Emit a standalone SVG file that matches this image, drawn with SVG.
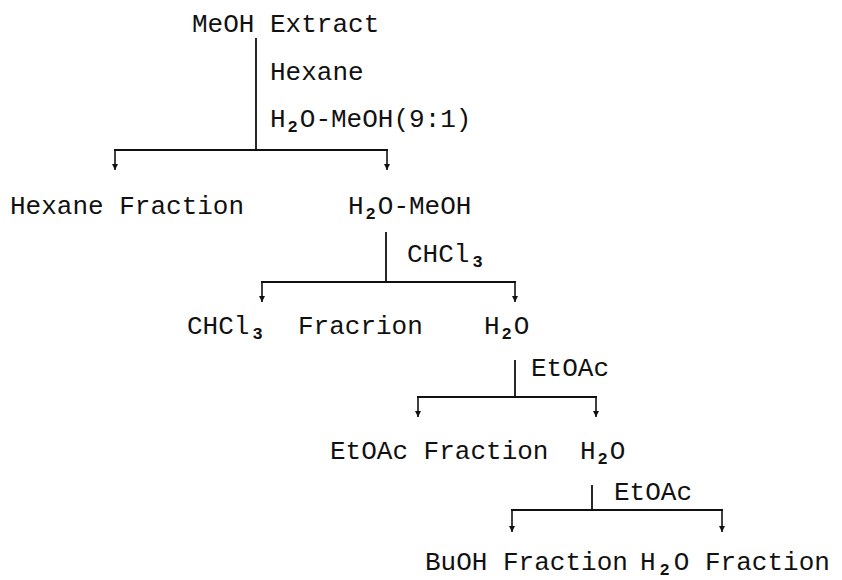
<svg xmlns="http://www.w3.org/2000/svg" width="842" height="580" viewBox="0 0 842 580">
<defs>
<marker id="ah" markerWidth="8" markerHeight="8" refX="6" refY="3.5" orient="auto" markerUnits="userSpaceOnUse">
<path d="M0,0.5 L6,3.5 L0,6.5 Z" fill="#111"/>
</marker>
</defs>
<style>
text{font-family:"Liberation Mono","DejaVu Sans Mono",monospace;font-size:26px;fill:#111}
.sub{font-size:17px;font-weight:bold}
.ln{stroke:#111;stroke-width:1.8;fill:none}
.ar{stroke:#111;stroke-width:1.6;fill:none;marker-end:url(#ah)}
</style>
<rect width="842" height="580" fill="#fff"/>
<g id="connectors">
<path class="ln" d="M256,38 V150 M114,150 H388"/>
<path class="ar" d="M115,150 V170"/>
<path class="ar" d="M387,150 V170"/>
<path class="ln" d="M386,232 V282 M261,282 H516"/>
<path class="ar" d="M262,282 V302"/>
<path class="ar" d="M515,282 V302"/>
<path class="ln" d="M515,360 V397 M417,397 H597"/>
<path class="ar" d="M418,397 V417"/>
<path class="ar" d="M596,397 V417"/>
<path class="ln" d="M592,485 V510 M511,510 H723"/>
<path class="ar" d="M512,510 V532"/>
<path class="ar" d="M722,510 V532"/>
</g>
<g id="meoh-extract"><text x="192" y="32">MeOH Extract</text></g>
<g id="solvent1">
<text x="270" y="80">Hexane</text>
<text x="270" y="127">H<tspan class="sub" dx="2" dy="5">2</tspan><tspan dx="2" dy="-5">O-MeOH(9:1)</tspan></text>
</g>
<g id="hexane-fraction"><text x="10" y="214">Hexane Fraction</text></g>
<g id="h2o-meoh"><text x="348" y="214">H<tspan class="sub" dx="2" dy="5">2</tspan><tspan dx="2" dy="-5">O-MeOH</tspan></text></g>
<g id="solvent2"><text x="407" y="262">CHCl<tspan class="sub" dx="3" dy="5">3</tspan></text></g>
<g id="chcl3-fraction"><text x="187" y="334">CHCl<tspan class="sub" dx="3" dy="5">3</tspan><tspan dy="-5" x="298">Fracrion</tspan></text></g>
<g id="h2o-1"><text x="484" y="334">H<tspan class="sub" dx="2" dy="5">2</tspan><tspan dx="2" dy="-5">O</tspan></text></g>
<g id="solvent3"><text x="531" y="376">EtOAc</text></g>
<g id="etoac-fraction"><text x="330" y="459">EtOAc Fraction</text></g>
<g id="h2o-2"><text x="580" y="459">H<tspan class="sub" dx="2" dy="5">2</tspan><tspan dx="2" dy="-5">O</tspan></text></g>
<g id="solvent4"><text x="614" y="500">EtOAc</text></g>
<g id="buoh-fraction"><text x="425" y="570">BuOH Fraction</text></g>
<g id="h2o-fraction"><text x="640" y="570">H<tspan class="sub" dx="4" dy="5">2</tspan><tspan dx="4" dy="-5">O Fraction</tspan></text></g>
</svg>
